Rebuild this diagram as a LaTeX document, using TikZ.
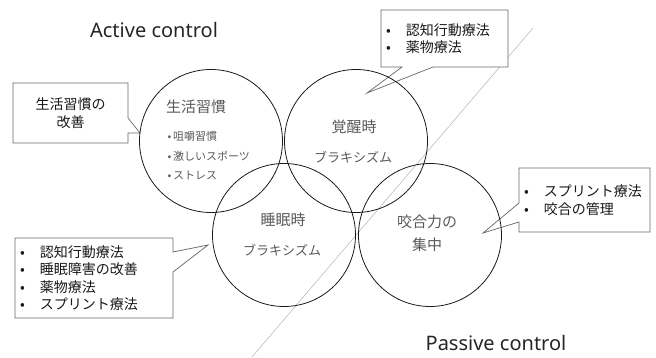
\documentclass[tikz,border=0pt]{standalone}
\usepackage{fontspec}
\setmainfont{Noto Sans}
\newfontfamily\jp{Noto Sans CJK JP}
\usepackage{tikz}
\usetikzlibrary{calc, backgrounds}

\newcommand{\notebullet}{\makebox[20pt][l]{•}}

\begin{document}
\begin{tikzpicture}[
    x=1pt, y=-1pt,
    ring/.style={
        circle,
        draw=black!90,
        line width=0.8pt,
        minimum size=143pt,
        inner sep=0pt
    },
    ringtitle/.style={
        text=black!65,
        align=center,
        font=\jp\fontsize{15}{23}\selectfont
    },
    ringsub/.style={
        text=black!65,
        font=\jp\fontsize{13}{16}\selectfont
    },
    ringlist/.style={
        text=black!65,
        align=left,
        font=\jp\fontsize{11}{19.5}\selectfont
    },
    notebox/.style={
        rectangle,
        inner xsep=5pt,
        inner ysep=0pt,
        outer sep=0pt,
        align=left,
        text=black!90,
        font=\jp\fontsize{14}{17.5}\selectfont
    },
    noteline/.style={
        draw=black!60,
        fill=white,
        line width=0.7pt
    },
    heading/.style={
        text=black!85,
        font=\fontsize{20}{24}\selectfont
    },
    divider/.style={
        draw=black!30,
        line width=0.5pt
    }
]
\useasboundingbox (0,0) rectangle (656,358);

% === Headings ===
\node[heading, anchor=base] (active) at (154,38) {Active control};
\node[heading, anchor=base] (passive) at (496,350) {Passive control};

% === Circles ===
\node[ring] (habit) at (211,141) {};
\node[ring] (awake) at (356,141) {};
\node[ring] (sleep) at (284,235) {};
\node[ring] (occlusion) at (430,235) {};

% === Circle texts ===
\node[ringtitle] (habitT) at (196,107) {生活習慣};
\node[ringlist, anchor=west] (habitL) at (164,156) {•\,咀嚼習慣\\•\,激しいスポーツ\\•\,ストレス};
\node[ringtitle] (awakeT) at (354,127) {覚醒時};
\node[ringsub] (awakeS) at (353,157) {ブラキシズム};
\node[ringtitle] (sleepT) at (283,220) {睡眠時};
\node[ringsub] (sleepS) at (282,250) {ブラキシズム};
\node[ringtitle] (occT) at (427,233) {咬合力の\\集中};

% === Notes ===
\node[notebox, text width=105pt, align=center, minimum height=60pt,
      font=\jp\fontsize{14}{18}\selectfont] (lifeNote) at (70.5,113) {生活習慣の\\改善};
\node[notebox, text width=117pt, minimum height=57pt] (wakeNote) at (444.5,38.5)
    {\notebullet 認知行動療法\\\notebullet 薬物療法};
\node[notebox, text width=121pt, minimum height=64pt] (occNote) at (584.5,200)
    {\notebullet スプリント療法\\\notebullet 咬合の管理};
\node[notebox, text width=148pt, minimum height=80pt] (sleepNote) at (94,278)
    {\notebullet 認知行動療法\\\notebullet 睡眠障害の改善\\\notebullet 薬物療法\\\notebullet スプリント療法};

% pointer tips
\coordinate (lifeTip) at (140,133);
\coordinate (wakeTip) at (367,93);
\coordinate (occTip) at (483,233);
\coordinate (sleepTip) at (208,245);

% divider ends
\coordinate (divTop) at (533,28);
\coordinate (divBot) at (252,357);

\begin{scope}[on background layer]
\draw[divider] (divTop) -- (divBot);

\draw[noteline] (lifeNote.north west) -- (lifeNote.north east)
    -- ($(lifeNote.north east)+(0,35)$) -- (lifeTip) -- ($(lifeNote.north east)+(0,50)$)
    -- (lifeNote.south east) -- (lifeNote.south west) -- cycle;
\draw[noteline] (wakeNote.north west) -- (wakeNote.north east) -- (wakeNote.south east)
    -- ($(wakeNote.south west)+(52,0)$) -- (wakeTip) -- ($(wakeNote.south west)+(21,0)$)
    -- (wakeNote.south west) -- cycle;
\draw[noteline] (occNote.north west) -- (occNote.north east) -- (occNote.south east)
    -- (occNote.south west) -- ($(occNote.south west)+(0,-10)$) -- (occTip)
    -- ($(occNote.north west)+(0,35)$) -- cycle;
\draw[noteline] (sleepNote.north west) -- (sleepNote.north east)
    -- ($(sleepNote.north east)+(0,14)$) -- (sleepTip) -- ($(sleepNote.north east)+(0,34)$)
    -- (sleepNote.south east) -- (sleepNote.south west) -- cycle;
\end{scope}
\end{tikzpicture}
\end{document}
